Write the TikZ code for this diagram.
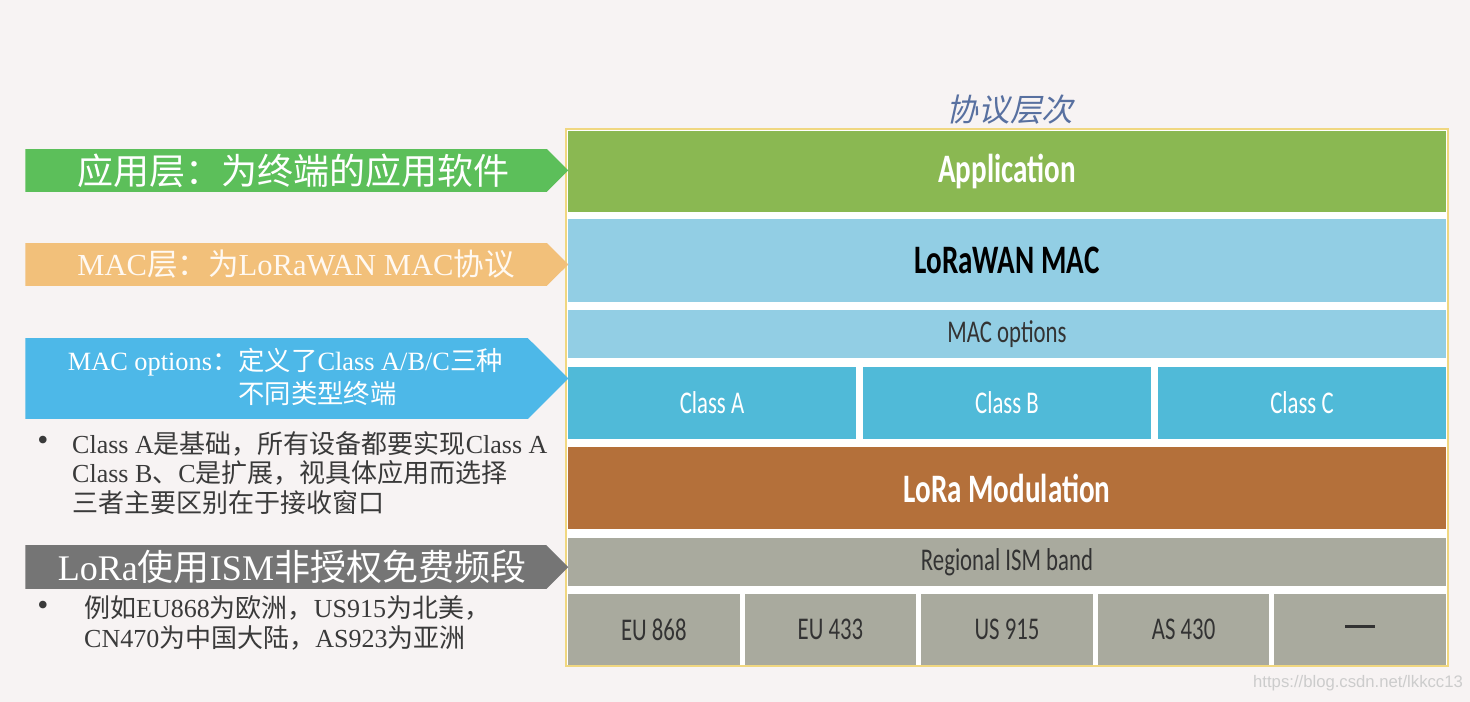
\documentclass[tikz,border=0pt]{standalone}
\usepackage{fontspec}
\usepackage{xcolor}
\usetikzlibrary{shapes.symbols}
\setmainfont{Liberation Serif}
\newfontfamily\cjk{Noto Sans CJK SC}
\newfontfamily\cjkslant{Noto Sans CJK SC}[FakeSlant=0.22]
\newfontfamily\boxfont{Carlito}[FakeStretch=0.72]
\newfontfamily\webfont{Liberation Sans}
\newcommand{\zh}[1]{{\cjk #1}}
\definecolor{bgpink}{HTML}{F7F3F3}
\definecolor{framey}{HTML}{F0D780}
\definecolor{tagGreen}{HTML}{5CBF5A}
\definecolor{tagOrange}{HTML}{F2C07A}
\definecolor{tagBlue}{HTML}{4DB8E8}
\definecolor{tagGray}{HTML}{757575}
\definecolor{appGreen}{HTML}{8AB852}
\definecolor{macBlue}{HTML}{92CEE4}
\definecolor{classBlue}{HTML}{50BAD8}
\definecolor{modBrown}{HTML}{B4703A}
\definecolor{ismGray}{HTML}{A9AA9E}
\definecolor{noteGray}{HTML}{3A3A3A}
\definecolor{titleBlue}{HTML}{5870A0}
\tikzset{
  tag/.style={signal, signal to=east, signal pointer angle=90, anchor=west,
    minimum width=10.86cm, inner sep=0pt},
  layer/.style={inner sep=0pt, minimum width=17.56cm,
    font=\boxfont\fontsize{18}{20}\selectfont},
  bigtext/.style={font=\boxfont\bfseries\fontsize{23}{26}\selectfont},
  note/.style={anchor=west, align=left, text=noteGray,
    font=\fontsize{14.8}{17}\selectfont}
}

\begin{document}
\begin{tikzpicture}[x=0.02cm,y=-0.02cm]
\useasboundingbox (0,0) rectangle (1470,702);
\fill[bgpink] (0,0) rectangle (1470,702);
\node[text=titleBlue,font=\cjkslant\fontsize{18}{20}\selectfont] (title) at (1010,110) {协议层次};
\draw[framey,line width=1.2pt,fill=white] (566,129) rectangle (1448,666);
\node[layer,bigtext,fill=appGreen,text=white,minimum height=1.62cm] (app) at (1007,171.5) {Application};
\node[layer,bigtext,fill=macBlue,text=black,minimum height=1.66cm] (mac) at (1007,260.5) {LoRaWAN MAC};
\node[layer,fill=macBlue,text=black!80,minimum height=0.96cm] (opt) at (1007,334) {MAC options};
\foreach \i/\c in {0/A,1/B,2/C}{
  \node[layer,fill=classBlue,text=white,minimum width=5.76cm,minimum height=1.44cm]
    (class\c) at (712+295*\i,403) {Class \c};}
\node[layer,bigtext,fill=modBrown,text=white,minimum height=1.64cm] (mod) at (1007,488) {LoRa Modulation};
\node[layer,fill=ismGray,text=black!80,minimum height=0.96cm] (ism) at (1007,562) {Regional ISM band};
\foreach \i/\b in {0/EU 868,1/EU 433,2/US 915,3/AS 430,4/{\rule[0.2em]{0.6cm}{1.6pt}}}{
  \node[layer,fill=ismGray,text=black!80,minimum width=3.43cm,minimum height=1.42cm]
    (band\i) at (653.8+176.6*\i,629.5) {\b};}
\node[tag,fill=tagGreen,text=white,minimum height=0.86cm,font=\cjk\fontsize{20.5}{24}\selectfont]
  (appTag) at (25,170.5) {\hspace*{0.3cm}应用层：为终端的应用软件};
\node[tag,fill=tagOrange,text=white!95!orange,minimum height=0.86cm,font=\fontsize{17.4}{22}\selectfont]
  (macTag) at (25,264.5) {\hspace*{0.4cm}MAC\zh{层：为}LoRaWAN MAC\zh{协议}};
\node[tag,fill=tagBlue,text=white,minimum height=1.62cm,align=left,font=\fontsize{15}{19}\selectfont]
  (optTag) at (25,378.5) {\hspace*{0.35cm}MAC options\zh{：定义了}Class A/B/C\zh{三种}\\
  \hspace*{0.35cm}\phantom{MAC options\zh{：}}\zh{不同类型终端}};
\node[font=\fontsize{18}{20}\selectfont,text=noteGray] (dot1) at (43,443) {•};
\node[note] (note1) at (66,473) {Class A\zh{是基础，所有设备都要实现}Class A\\
  Class B\zh{、}C\zh{是扩展，视具体应用而选择}\\
  \zh{三者主要区别在于接收窗口}};
\node[tag,fill=tagGray,text=white,minimum height=0.88cm,font=\fontsize{20.5}{24}\selectfont]
  (ismTag) at (25,567) {\hspace*{0.25cm}LoRa\zh{使用}ISM\zh{非授权免费频段}};
\node[font=\fontsize{18}{20}\selectfont,text=noteGray] (dot2) at (43,608) {•};
\node[note] (note2) at (78,623) {\zh{例如}EU868\zh{为欧洲，}US915\zh{为北美，}\\
  CN470\zh{为中国大陆，}AS923\zh{为亚洲}};
\node[text=black!20,font=\webfont\fontsize{9.5}{12}\selectfont] (mark) at (1358,683) {https://blog.csdn.net/lkkcc13};
\end{tikzpicture}
\end{document}
